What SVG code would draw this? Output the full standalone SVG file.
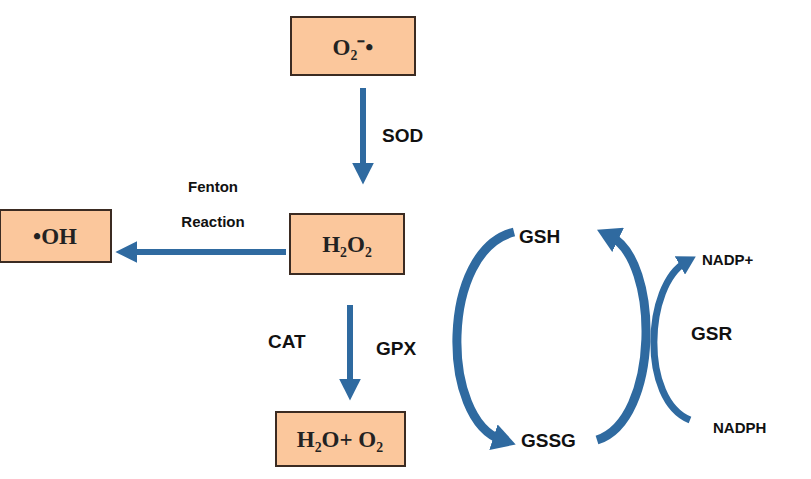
<svg xmlns="http://www.w3.org/2000/svg" width="811" height="479" viewBox="0 0 811 479">
<style>
.box{fill:#fbc79c;stroke:#3b2b22;stroke-width:2}
.chem{font-family:"Liberation Serif",serif;font-size:23px;font-weight:bold;fill:#222}
.lbl{font-family:"Liberation Sans",Arial,sans-serif;font-weight:bold;fill:#111}
.ln{stroke:#2f6aa0;fill:none}
</style>
<defs>
<marker id="ah" markerWidth="3.6" markerHeight="3.6" refX="1.5" refY="1.8" orient="auto" markerUnits="strokeWidth"><path d="M0,0 L3.6,1.8 L0,3.6 z" fill="#2f6aa0"/></marker>
<marker id="ah2" markerWidth="2.6" markerHeight="3" refX="1" refY="1.5" orient="auto" markerUnits="strokeWidth"><path d="M0,0 L2.6,1.5 L0,3 z" fill="#2f6aa0"/></marker>
</defs>
<rect width="811" height="479" fill="#fff"/>
<g id="o2"><rect class="box" x="291" y="17" width="124" height="58"/><text class="chem" x="353" y="55" text-anchor="middle">O₂⁻•</text></g>
<g id="h2o2"><rect class="box" x="290" y="214" width="114" height="60"/><text class="chem" x="347" y="252" text-anchor="middle">H₂O₂</text></g>
<g id="oh"><rect class="box" x="0" y="210" width="111" height="52"/><text class="chem" x="55" y="244" text-anchor="middle" font-size="20" font-weight="normal">•OH</text></g>
<g id="h2o"><rect class="box" x="276" y="412" width="129" height="54"/><text class="chem" x="340" y="447" text-anchor="middle">H₂O+ O₂</text></g>
<g id="gsh"><text class="lbl" x="519" y="243" font-size="19">GSH</text></g>
<g id="gssg"><text class="lbl" x="521" y="447" font-size="19">GSSG</text></g>
<g id="nadpp"><text class="lbl" x="702" y="265" font-size="15">NADP+</text></g>
<g id="nadph"><text class="lbl" x="713" y="433" font-size="15">NADPH</text></g>
<g id="labels">
<text class="lbl" x="382" y="142" font-size="19">SOD</text>
<text class="lbl" x="213" y="192" font-size="15" text-anchor="middle">Fenton</text>
<text class="lbl" x="213" y="227" font-size="15" text-anchor="middle">Reaction</text>
<text class="lbl" x="268" y="348" font-size="19">CAT</text>
<text class="lbl" x="376" y="355" font-size="19">GPX</text>
<text class="lbl" x="691" y="340" font-size="19">GSR</text>
</g>
<g id="connectors">
<line class="ln" x1="363" y1="88" x2="363" y2="172" stroke-width="6" marker-end="url(#ah)"/>
<line class="ln" x1="286" y1="252" x2="128" y2="252" stroke-width="6" marker-end="url(#ah)"/>
<line class="ln" x1="350" y1="305" x2="350" y2="388" stroke-width="6" marker-end="url(#ah)"/>
<path class="ln" d="M514,232 C440,250 440,420 502,440" stroke-width="9" marker-end="url(#ah2)"/>
<path class="ln" d="M597,440 C660,420 660,260 610,236" stroke-width="9" marker-end="url(#ah2)"/>
<path class="ln" d="M690,420 C640,400 645,285 686,262" stroke-width="7" marker-end="url(#ah2)"/>
</g>
</svg>
